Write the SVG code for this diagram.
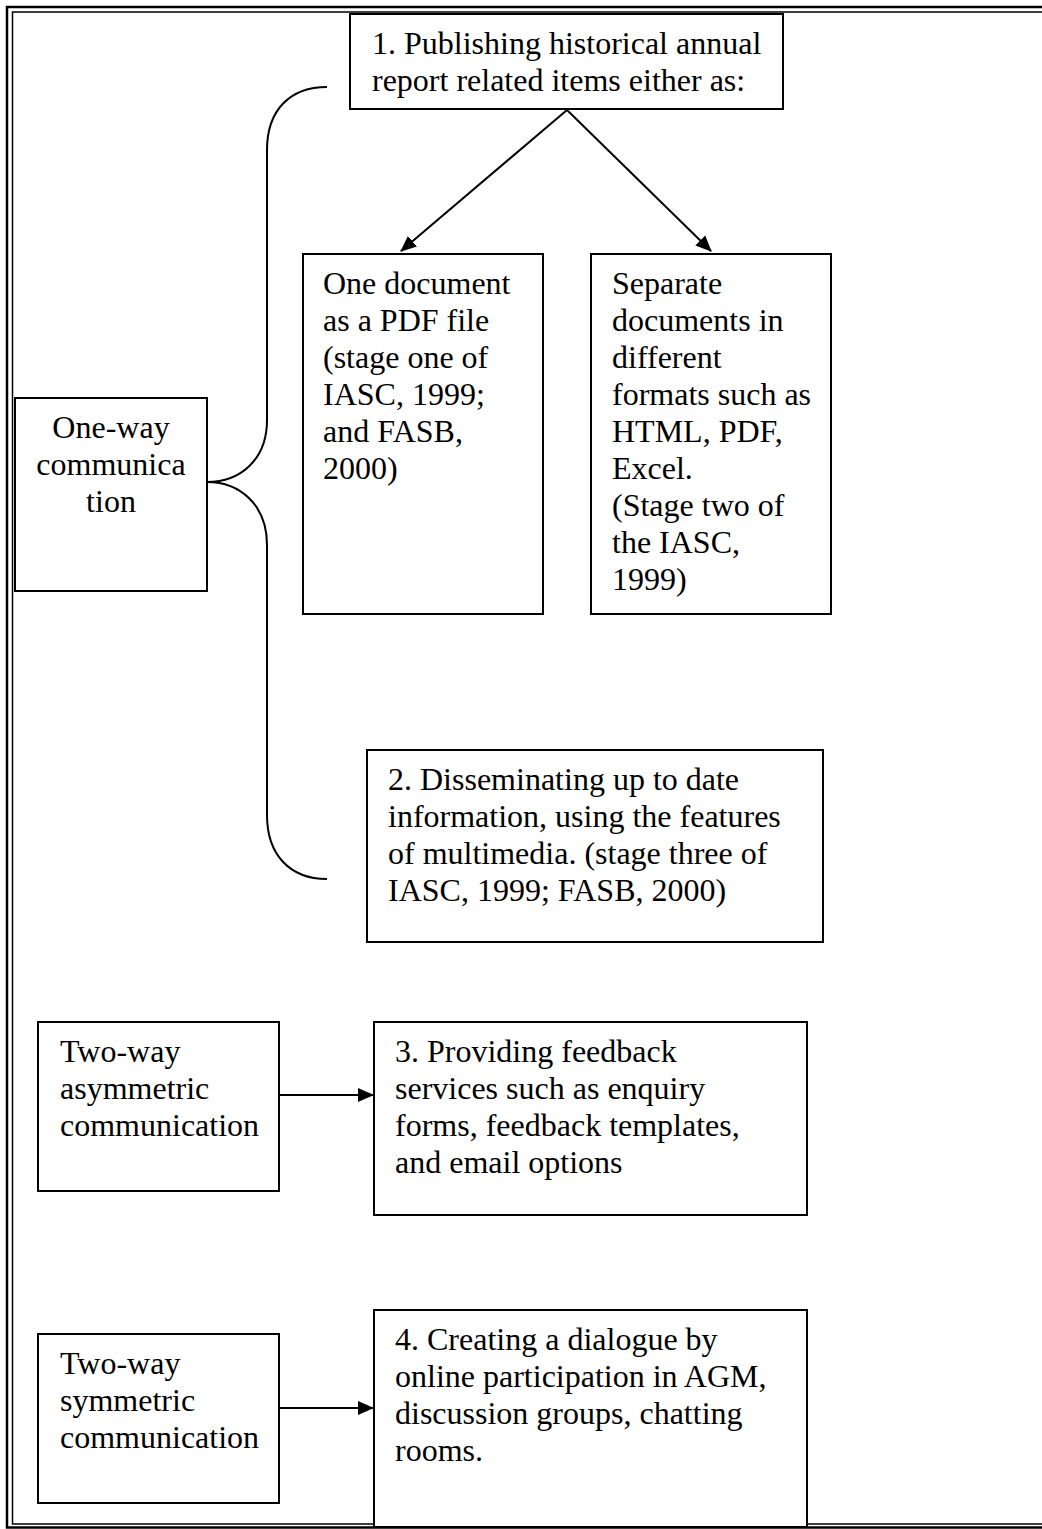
<svg xmlns="http://www.w3.org/2000/svg" width="1042" height="1529" viewBox="0 0 1042 1529">
<style>
.box{fill:#fff;stroke:#000;stroke-width:2}
.t{font-family:"Liberation Serif","Times New Roman",serif;font-size:32px;fill:#000}
.c{fill:none;stroke:#000;stroke-width:2}
</style>
<defs>
<marker id="ah2" markerWidth="16" markerHeight="16" refX="15" refY="8" orient="auto" markerUnits="userSpaceOnUse" viewBox="0 0 16 16">
<path d="M0,1 L16,8 L0,15 z" fill="#000"/>
</marker>
</defs>
<rect width="1042" height="1529" fill="#fff"/>
<g id="frame">
<path d="M1050,7 H7 V1527.5 H1050" fill="none" stroke="#000" stroke-width="2.5"/>
<path d="M1050,12 H12.5 V1524 H1050" fill="none" stroke="#000" stroke-width="1.5"/>
</g>
<g id="connectors">
<path class="c" d="M567,110 L401,251" marker-end="url(#ah2)"/>
<path class="c" d="M567,110 L711,251" marker-end="url(#ah2)"/>
<path class="c" d="M327,87 C290,87 267,110 267,150 L267,420 C267,460 240,482 207,482"/>
<path class="c" d="M207,482 C240,482 267,505 267,545 L267,815 C267,855 290,879 327,879"/>
<path class="c" d="M279,1095 L373,1095" marker-end="url(#ah2)"/>
<path class="c" d="M279,1408 L373,1408" marker-end="url(#ah2)"/>
</g>
<g id="n1">
<rect class="box" x="350" y="14" width="433" height="95"/>
<text class="t" x="372" y="54">1. Publishing historical annual</text>
<text class="t" x="372" y="91">report related items either as:</text>
</g>
<g id="n-pdf">
<rect class="box" x="303" y="254" width="240" height="360"/>
<text class="t" x="323" y="294">One document</text>
<text class="t" x="323" y="331">as a PDF file</text>
<text class="t" x="323" y="368">(stage one of</text>
<text class="t" x="323" y="405">IASC, 1999;</text>
<text class="t" x="323" y="442">and FASB,</text>
<text class="t" x="323" y="479">2000)</text>
</g>
<g id="n-sep">
<rect class="box" x="591" y="254" width="240" height="360"/>
<text class="t" x="612" y="294">Separate</text>
<text class="t" x="612" y="331">documents in</text>
<text class="t" x="612" y="368">different</text>
<text class="t" x="612" y="405">formats such as</text>
<text class="t" x="612" y="442">HTML, PDF,</text>
<text class="t" x="612" y="479">Excel.</text>
<text class="t" x="612" y="516">(Stage two of</text>
<text class="t" x="612" y="553">the IASC,</text>
<text class="t" x="612" y="590">1999)</text>
</g>
<g id="n-oneway">
<rect class="box" x="15" y="398" width="192" height="193"/>
<text class="t" x="111" y="438" text-anchor="middle">One-way</text>
<text class="t" x="111" y="475" text-anchor="middle">communica</text>
<text class="t" x="111" y="512" text-anchor="middle">tion</text>
</g>
<g id="n2">
<rect class="box" x="367" y="750" width="456" height="192"/>
<text class="t" x="388" y="790">2. Disseminating up to date</text>
<text class="t" x="388" y="827">information, using the features</text>
<text class="t" x="388" y="864">of multimedia. (stage three of</text>
<text class="t" x="388" y="901">IASC, 1999; FASB, 2000)</text>
</g>
<g id="n-asym">
<rect class="box" x="38" y="1022" width="241" height="169"/>
<text class="t" x="60" y="1062">Two-way</text>
<text class="t" x="60" y="1099">asymmetric</text>
<text class="t" x="60" y="1136">communication</text>
</g>
<g id="n3">
<rect class="box" x="374" y="1022" width="433" height="193"/>
<text class="t" x="395" y="1062">3. Providing feedback</text>
<text class="t" x="395" y="1099">services such as enquiry</text>
<text class="t" x="395" y="1136">forms, feedback templates,</text>
<text class="t" x="395" y="1173">and email options</text>
</g>
<g id="n-sym">
<rect class="box" x="38" y="1334" width="241" height="169"/>
<text class="t" x="60" y="1374">Two-way</text>
<text class="t" x="60" y="1411">symmetric</text>
<text class="t" x="60" y="1448">communication</text>
</g>
<g id="n4">
<rect class="box" x="374" y="1310" width="433" height="217"/>
<text class="t" x="395" y="1350">4. Creating a dialogue by</text>
<text class="t" x="395" y="1387">online participation in AGM,</text>
<text class="t" x="395" y="1424">discussion groups, chatting</text>
<text class="t" x="395" y="1461">rooms.</text>
</g>
</svg>
